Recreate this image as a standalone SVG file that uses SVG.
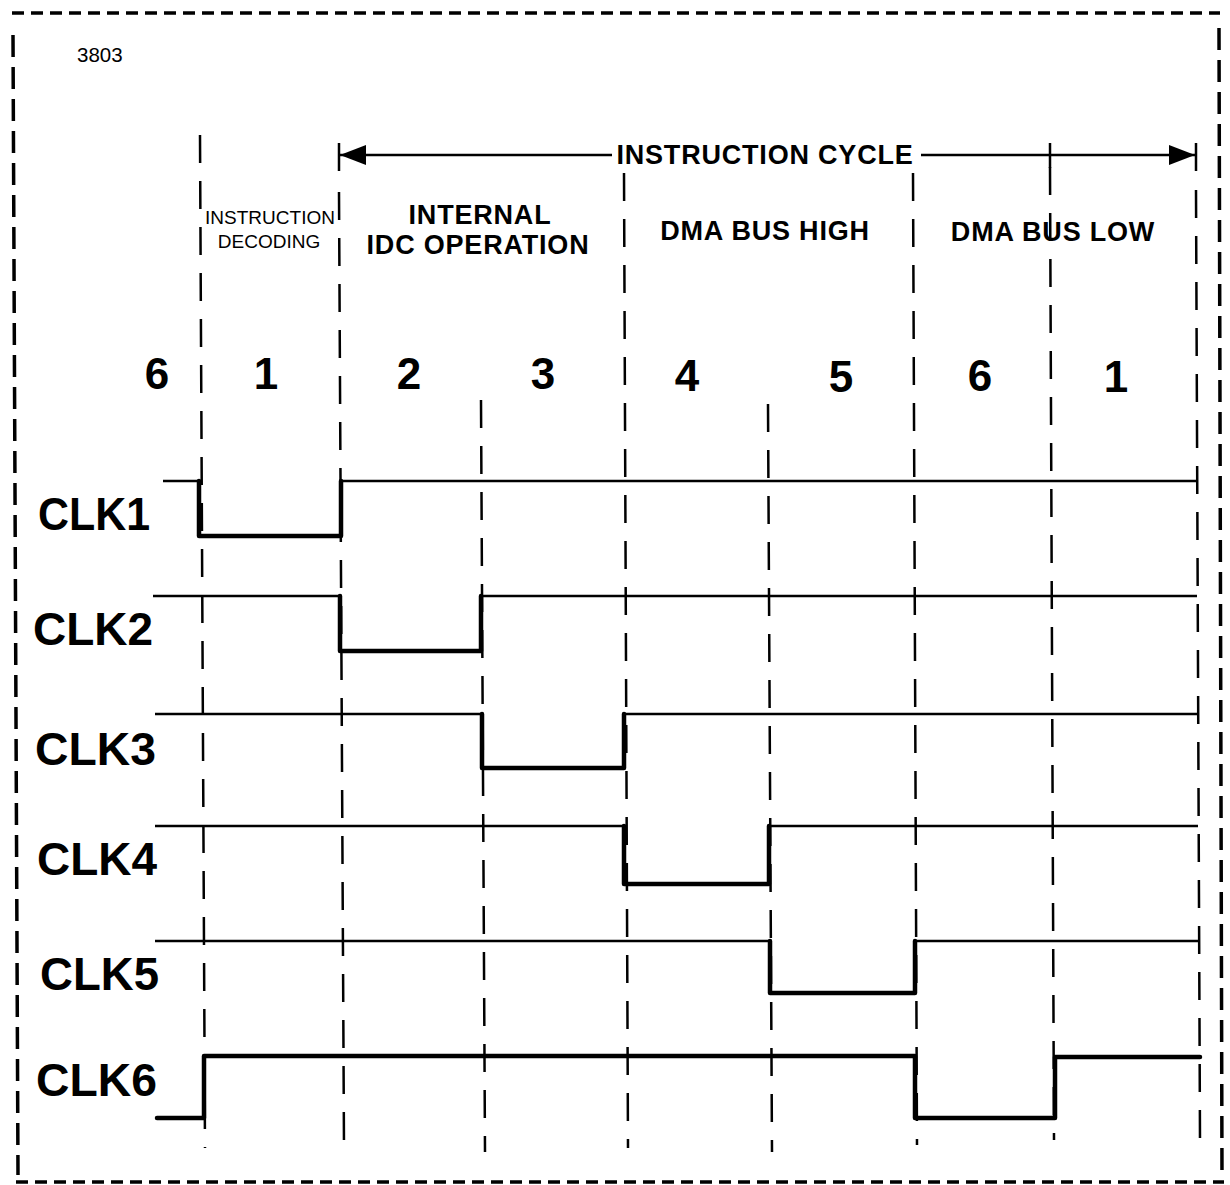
<svg xmlns="http://www.w3.org/2000/svg" width="1230" height="1185" viewBox="0 0 1230 1185">
<style>
.border{stroke:#000;stroke-width:3.5;fill:none}
.bh{stroke-dasharray:12 7}
.bv{stroke-dasharray:22 10}
.grid{stroke:#000;stroke-width:2.5;fill:none;stroke-dasharray:28 18}
.hi{stroke:#000;stroke-width:2.5;fill:none}
.lo{stroke:#000;stroke-width:4.5;fill:none;stroke-linejoin:round;stroke-linecap:round}
.clk{font-family:"Liberation Sans",Arial,sans-serif;font-weight:bold;font-size:46px;fill:#000}
.num{font-family:"Liberation Sans",Arial,sans-serif;font-weight:bold;font-size:44px;fill:#000;text-anchor:middle}
.hdr{font-family:"Liberation Sans",Arial,sans-serif;font-weight:bold;font-size:27px;letter-spacing:0.8px;fill:#000;text-anchor:middle}
.small{font-family:"Liberation Sans Narrow","Liberation Sans",Arial,sans-serif;font-size:19px;fill:#000;text-anchor:middle}
</style>
<rect width="1230" height="1185" fill="#fff"/>
<g id="border">
<line class="border bh" x1="12" y1="13" x2="1220" y2="13"/>
<line class="border bh" x1="16" y1="1182" x2="1224" y2="1182"/>
<line class="border bv" x1="13" y1="35" x2="18" y2="1175"/>
<line class="border bv" x1="1219" y1="28" x2="1222" y2="1175"/>
</g>
<text id="fig-number" x="77" y="62" style="font-family:'Liberation Sans',Arial,sans-serif;font-size:20.5px">3803</text>
<g id="gridlines">
<line class="grid" x1="200" y1="135" x2="205" y2="1148"/>
<line class="grid" x1="339" y1="192" x2="344" y2="1148"/>
<line class="grid" x1="481" y1="400" x2="485" y2="1152"/>
<line class="grid" x1="624" y1="173" x2="628" y2="1148"/>
<line class="grid" x1="768" y1="404" x2="772" y2="1152"/>
<line class="grid" x1="913" y1="173" x2="917" y2="1145"/>
<line class="grid" x1="1050" y1="167" x2="1054" y2="1140"/>
<line class="grid" x1="1196" y1="190" x2="1200" y2="1140"/>
</g>
<g id="instruction-cycle">
<line class="hi" x1="340" y1="155" x2="612" y2="155"/>
<line class="hi" x1="921" y1="155" x2="1195" y2="155"/>
<line class="hi" x1="339" y1="143" x2="339" y2="171" stroke-width="3"/>
<line class="hi" x1="1196" y1="143" x2="1196" y2="171" stroke-width="3"/>
<line class="hi" x1="1050" y1="143" x2="1050" y2="168"/>
<polygon points="340,155 366,145 366,165" fill="#000"/>
<polygon points="1195,155 1169,145 1169,165" fill="#000"/>
<text x="765" y="164" class="hdr">INSTRUCTION CYCLE</text>
</g>
<g id="phase-labels">
<text x="270" y="224" class="small">INSTRUCTION</text>
<text x="269" y="248" class="small">DECODING</text>
<text x="480" y="224" class="hdr">INTERNAL</text>
<text x="478" y="254" class="hdr">IDC OPERATION</text>
<text x="765" y="240" class="hdr">DMA BUS HIGH</text>
<text x="1053" y="241" class="hdr">DMA BUS LOW</text>
</g>
<g id="state-numbers">
<text x="157" y="389" class="num">6</text>
<text x="266" y="389" class="num">1</text>
<text x="409" y="389" class="num">2</text>
<text x="543" y="389" class="num">3</text>
<text x="687" y="391" class="num">4</text>
<text x="841" y="392" class="num">5</text>
<text x="980" y="391" class="num">6</text>
<text x="1116" y="392" class="num">1</text>
</g>
<g id="clk1">
<text x="38" y="530" class="clk" textLength="112" lengthAdjust="spacingAndGlyphs">CLK1</text>
<path class="hi" d="M163,481 H199"/>
<path class="lo" d="M199,481 V536 H341 V481"/>
<path class="hi" d="M341,481 H1197"/>
</g>
<g id="clk2">
<text x="33" y="645" class="clk" textLength="120" lengthAdjust="spacingAndGlyphs">CLK2</text>
<path class="hi" d="M153,596 H340"/>
<path class="lo" d="M340,596 V651 H481 V596"/>
<path class="hi" d="M481,596 H1197"/>
</g>
<g id="clk3">
<text x="35" y="765" class="clk" textLength="121" lengthAdjust="spacingAndGlyphs">CLK3</text>
<path class="hi" d="M155,714 H482"/>
<path class="lo" d="M482,714 V768 H624 V714"/>
<path class="hi" d="M624,714 H1198"/>
</g>
<g id="clk4">
<text x="37" y="875" class="clk" textLength="120" lengthAdjust="spacingAndGlyphs">CLK4</text>
<path class="hi" d="M155,826 H624"/>
<path class="lo" d="M624,826 V884 H769 V826"/>
<path class="hi" d="M769,826 H1198"/>
</g>
<g id="clk5">
<text x="40" y="990" class="clk" textLength="119" lengthAdjust="spacingAndGlyphs">CLK5</text>
<path class="hi" d="M155,941 H770"/>
<path class="lo" d="M770,941 V993 H915 V941"/>
<path class="hi" d="M915,941 H1198"/>
</g>
<g id="clk6">
<text x="36" y="1096" class="clk" textLength="121" lengthAdjust="spacingAndGlyphs">CLK6</text>
<path class="lo" d="M157,1118 H204 V1056 H915 V1118 H1055 V1057 H1200"/>
</g>
</svg>
